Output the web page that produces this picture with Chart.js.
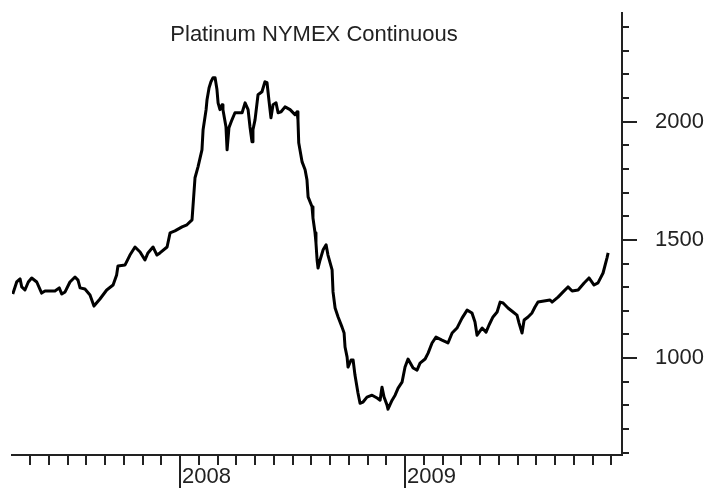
<!DOCTYPE html>
<html>
<head>
<meta charset="utf-8">
<script src="https://cdn.jsdelivr.net/npm/chart.js@4"></script>
<style>
  body{margin:0;background:#fff;}
  #wrap{width:708px;height:488px;}
</style>
</head>
<body>
<div id="wrap"><canvas id="chart" width="708" height="488"></canvas></div>
<script>
// DATA (x = months since Jan 2007)
const title = "Platinum NYMEX Continuous";
const months = [3.08,3.29,3.47,3.56,3.73,3.91,4.09,4.36,4.62,4.80,5.33,5.56,5.69,5.87,6.13,6.40,6.56,6.67,6.93,7.20,
  7.41,7.73,8.09,8.43,8.62,8.69,9.07,9.33,9.60,9.87,10.13,10.29,10.56,10.77,10.93,11.31,11.47,11.73,12.11,12.37,
  12.64,12.80,12.96,13.17,13.23,13.39,13.44,13.55,13.65,13.76,13.87,13.97,14.03,14.13,14.24,14.29,14.45,14.51,14.61,14.77,
  14.93,15.31,15.47,15.63,15.73,15.84,15.89,16.00,16.16,16.37,16.53,16.64,16.75,16.85,16.96,17.12,17.23,17.39,17.60,17.87,
  18.13,18.24,18.29,18.33,18.51,18.67,18.77,18.83,19.04,19.09,19.20,19.25,19.31,19.36,19.47,19.63,19.79,19.89,20.11,20.16,
  20.27,20.43,20.64,20.75,20.80,20.91,20.96,21.12,21.23,21.33,21.49,21.60,21.76,21.97,22.24,22.51,22.67,22.77,22.88,23.04,
  23.09,23.31,23.47,23.63,23.84,24.00,24.16,24.43,24.64,24.80,25.07,25.23,25.44,25.65,25.97,26.29,26.51,26.77,27.04,27.31,
  27.57,27.73,27.84,28.11,28.32,28.48,28.69,28.91,29.07,29.23,29.49,29.76,29.97,30.08,30.24,30.35,30.56,30.77,30.93,31.09,
  31.73,31.84,32.16,32.43,32.69,32.91,33.23,33.55,33.81,34.08,34.29,34.56,34.77,34.83];
const prices = [1271,1322,1335,1301,1288,1322,1339,1322,1275,1284,1284,1297,1271,1280,1322,1343,1330,1297,1292,1267,
  1220,1250,1288,1309,1352,1390,1394,1436,1470,1449,1415,1445,1470,1436,1445,1470,1530,1538,1555,1564,
  1585,1763,1809,1881,1966,2051,2093,2144,2169,2186,2186,2136,2080,2051,2072,2051,1979,1881,1975,2008,
  2038,2038,2080,2051,1979,1915,1966,2008,2114,2127,2169,2165,2085,2017,2072,2080,2038,2042,2063,2051,
  2030,2042,2008,1911,1830,1797,1754,1682,1640,1593,1530,1487,1415,1381,1415,1458,1479,1436,1373,1280,
  1212,1174,1131,1106,1047,1004,962,992,992,928,852,809,814,835,843,831,822,877,835,801,
  784,822,843,873,898,962,996,958,949,979,996,1021,1064,1089,1076,1064,1106,1127,1169,1203,
  1191,1153,1097,1127,1110,1140,1174,1195,1237,1233,1212,1195,1182,1148,1106,1161,1174,1191,1216,1237,
  1246,1237,1258,1280,1301,1284,1288,1318,1339,1309,1318,1360,1424,1445];
const yearTicks = [12,24];
const yearLabels = {12:"2008",24:"2009"};
const priceLabels = [1000,1500,2000];
const monthTicks = [];   // tick at every month start in range
for(let m=4;m<=35;m++) monthTicks.push(m);
const priceTicks = [];   // minor tick every 100
for(let v=600;v<=2400;v+=100) priceTicks.push(v);

const FONT = {family:"'Liberation Sans', Arial, sans-serif", size:22};
const INK = "#222";

// no extra room for labels sticking out past the ends
function noPad(s){
  s.paddingTop = 0; s.paddingBottom = 0;
  s.paddingLeft = 0; s.paddingRight = 0;
}

// tick marks + title drawn with the chart's own scales
const extras = {
  id:"extras",
  afterDraw(chart){
    const ctx = chart.ctx;
    const xs = chart.scales.x, ys = chart.scales.y;
    const area = chart.chartArea;
    ctx.save();
    ctx.strokeStyle = INK;
    ctx.lineWidth = 2;
    ctx.beginPath();
    monthTicks.forEach(m=>{
      const px = Math.round(xs.getPixelForValue(m));
      const len = (m%12===0) ? 40 : 10;
      ctx.moveTo(px, area.bottom);
      ctx.lineTo(px, area.bottom+len);
    });
    priceTicks.forEach(v=>{
      const py = Math.round(ys.getPixelForValue(v));
      const len = (v%500===0) ? 15 : 7;
      ctx.moveTo(area.right, py);
      ctx.lineTo(area.right+len, py);
    });
    ctx.stroke();

    ctx.fillStyle = INK;
    ctx.font = FONT.size+"px "+FONT.family;
    ctx.textAlign = "center";
    ctx.textBaseline = "alphabetic";
    ctx.fillText(title, (area.left+area.right)/2 - 3, 41);
    ctx.restore();
  }
};

new Chart(document.getElementById("chart"), {
  type:"line",
  data:{
    datasets:[{
      data: months.map((m,i)=>({x:m, y:prices[i]})),
      borderColor:"#000",
      borderWidth:3,
      borderJoinStyle:"round",
      pointRadius:0,
      tension:0,
      fill:false
    }]
  },
  options:{
    responsive:false,
    animation:false,
    layout:{padding:{left:12, top:13, right:0, bottom:0}},
    plugins:{legend:{display:false}, tooltip:{enabled:false}, title:{display:false}},
    scales:{
      x:{
        type:"linear",
        min:3.04, max:35.57,
        afterBuildTicks(s){ s.ticks = yearTicks.map(v=>({value:v})); },
        afterFit(s){ s.height = 33; noPad(s); },
        grid:{display:false, drawTicks:false},
        border:{display:true, color:INK, width:2},
        ticks:{
          autoSkip:false,
          maxRotation:0,
          align:"start",
          labelOffset:2,
          padding:9,
          color:INK,
          font:FONT,
          callback:(v)=>yearLabels[v] || ""
        }
      },
      y:{
        type:"linear",
        position:"right",
        min:590, max:2460,
        afterBuildTicks(s){ s.ticks = priceLabels.map(v=>({value:v})); },
        afterFit(s){ s.width = 86; noPad(s); },
        grid:{display:false, drawTicks:false},
        border:{display:true, color:INK, width:2},
        ticks:{
          padding:33,
          color:INK,
          font:FONT,
          callback:(v)=>String(v)
        }
      }
    }
  },
  plugins:[extras]
});
</script>
</body>
</html>
